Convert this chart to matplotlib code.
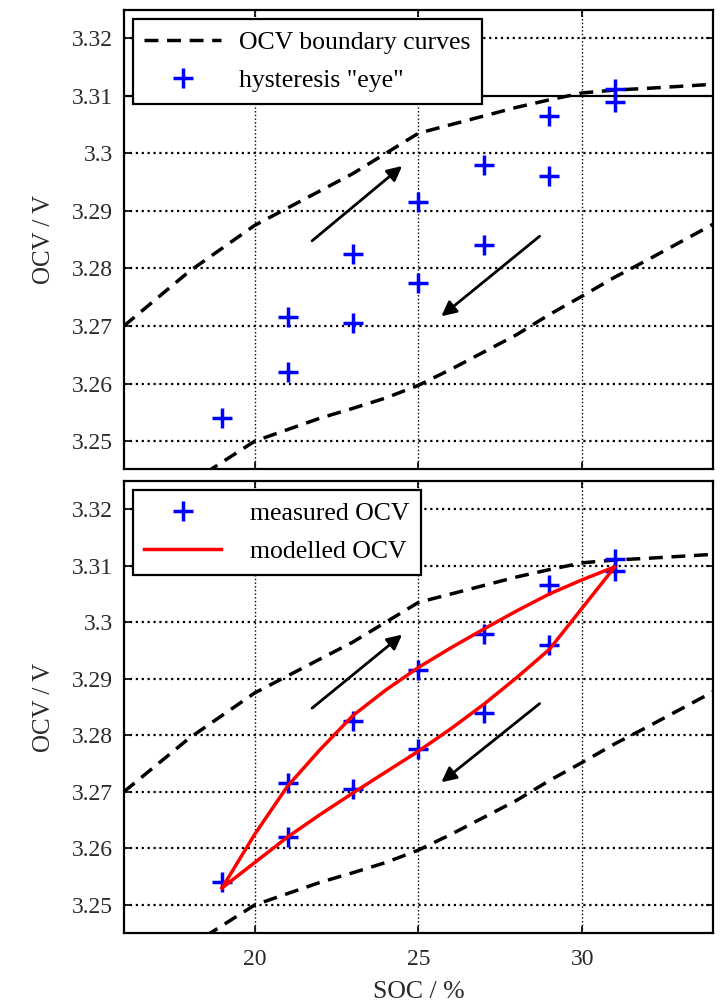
import matplotlib
matplotlib.use('Agg')
import matplotlib.pyplot as plt
import matplotlib.ticker as mticker

plt.rcParams['font.family'] = ['Liberation Serif', 'DejaVu Serif']

# measured OCV points (SOC %, OCV V)
soc_meas = [19, 21, 21, 23, 23, 25, 25, 27, 27, 29, 29, 31, 31]
ocv_meas = [3.254, 3.2715, 3.262, 3.2825, 3.2705, 3.2915, 3.2775,
            3.298, 3.284, 3.3065, 3.296, 3.3112, 3.309]

# modelled OCV loop (upper branch then lower branch back)
soc_model = [19, 20, 21, 22, 23, 24, 25, 26, 27, 28, 29, 30, 31,
             30, 29, 28, 27, 26, 25, 24, 23, 22, 21, 20, 19]
ocv_model = [3.253, 3.2625, 3.271, 3.2775, 3.2835, 3.288, 3.292, 3.2955, 3.2988, 3.302, 3.305, 3.3075, 3.3098,
             3.3025, 3.2952, 3.2902, 3.2855, 3.2812, 3.2772, 3.2735, 3.2698, 3.266, 3.262, 3.2575, 3.253]

# OCV boundary curves
soc_upper = [16, 18, 20, 21, 22, 23, 24, 25, 26, 27, 28, 29, 30, 31, 32, 34]
ocv_upper = [3.270, 3.2795, 3.2875, 3.2905, 3.2935, 3.2965, 3.300, 3.3035, 3.305, 3.3065,
             3.308, 3.3093, 3.3105, 3.311, 3.3113, 3.312]
soc_lower = [18.5, 20, 21, 22, 23, 24, 25, 26, 27, 28, 29, 30, 31, 32, 34]
ocv_lower = [3.2445, 3.250, 3.252, 3.254, 3.2557, 3.2575, 3.2597, 3.2625, 3.2655, 3.2685,
             3.272, 3.2752, 3.2785, 3.2815, 3.2877]

# direction arrows: (start, tip)
arrow_up = [(21.75, 3.2848), (24.5, 3.2978)]
arrow_down = [(28.7, 3.2856), (25.7, 3.2717)]

xticks = [20, 25, 30]
yticks = [3.25, 3.26, 3.27, 3.28, 3.29, 3.30, 3.31, 3.32]


def style_axes(ax):
    ax.set_xlim(16, 34)
    ax.set_ylim(3.2451, 3.3249)
    ax.set_xticks(xticks)
    ax.set_yticks(yticks)
    ax.yaxis.set_major_formatter(mticker.FuncFormatter(lambda v, p: '%g' % round(v, 2)))
    ax.xaxis.grid(True, linestyle=':', color='black', linewidth=1.0)
    ax.yaxis.grid(True, linestyle=':', color='black', linewidth=1.6)
    ax.tick_params(direction='in', top=True, right=True, length=5, width=1.2,
                   labelsize=17, labelcolor='#2a2a2a')
    ax.tick_params(axis='y', pad=8)
    ax.tick_params(axis='x', pad=12)
    for s in ax.spines.values():
        s.set_linewidth(1.6)
    ax.set_ylabel('OCV / V', fontsize=18, color='#2a2a2a', labelpad=12)
    for (x0, y0), (x1, y1) in [arrow_up, arrow_down]:
        ax.annotate('', xy=(x1, y1), xytext=(x0, y0),
                    arrowprops=dict(arrowstyle='-|>', color='black', lw=2,
                                    mutation_scale=22, shrinkA=0, shrinkB=0))


fig = plt.figure(figsize=(7.24, 10.05), dpi=100)
ax1 = fig.add_axes([0.171, 0.533, 0.814, 0.457])
ax2 = fig.add_axes([0.171, 0.072, 0.814, 0.449])

# top panel
ax1.plot(soc_upper, ocv_upper, color='black', lw=2.5, dashes=(4, 2.5), label='OCV boundary curves')
ax1.plot(soc_lower, ocv_lower, color='black', lw=2.5, dashes=(4, 2.5))
ax1.plot(soc_meas, ocv_meas, '+', color='blue', ms=14, mew=2.5, linestyle='none', label='hysteresis "eye"')
style_axes(ax1)
ax1.tick_params(labelbottom=False)
# in the source the 3.31 grid line is drawn solid
for val, gl in zip(yticks, ax1.get_ygridlines()):
    if abs(val - 3.31) < 1e-6:
        gl.set_linestyle('-')
        gl.set_linewidth(1.6)
leg1 = ax1.legend(loc='upper left', fontsize=18.5, fancybox=False, edgecolor='black',
                  framealpha=1, borderaxespad=0.35, handlelength=3.0, handletextpad=0.7,
                  labelspacing=0.6, borderpad=0.45)
leg1.get_frame().set_linewidth(1.6)

# bottom panel
ax2.plot(soc_upper, ocv_upper, color='black', lw=2.5, dashes=(4, 2.5))
ax2.plot(soc_lower, ocv_lower, color='black', lw=2.5, dashes=(4, 2.5))
ax2.plot(soc_meas, ocv_meas, '+', color='blue', ms=14, mew=2.5, linestyle='none', label='measured OCV')
ax2.plot(soc_model, ocv_model, color='red', lw=2.5, label='modelled OCV')
style_axes(ax2)
ax2.set_xlabel('SOC / %', fontsize=18.5, color='#2a2a2a', labelpad=8)
leg2 = ax2.legend(loc='upper left', fontsize=18.5, fancybox=False, edgecolor='black',
                  framealpha=1, borderaxespad=0.35, handlelength=3.0, handletextpad=1.1,
                  labelspacing=0.6, borderpad=0.45)
leg2.get_frame().set_linewidth(1.6)

fig.savefig('out.png', dpi=100)
